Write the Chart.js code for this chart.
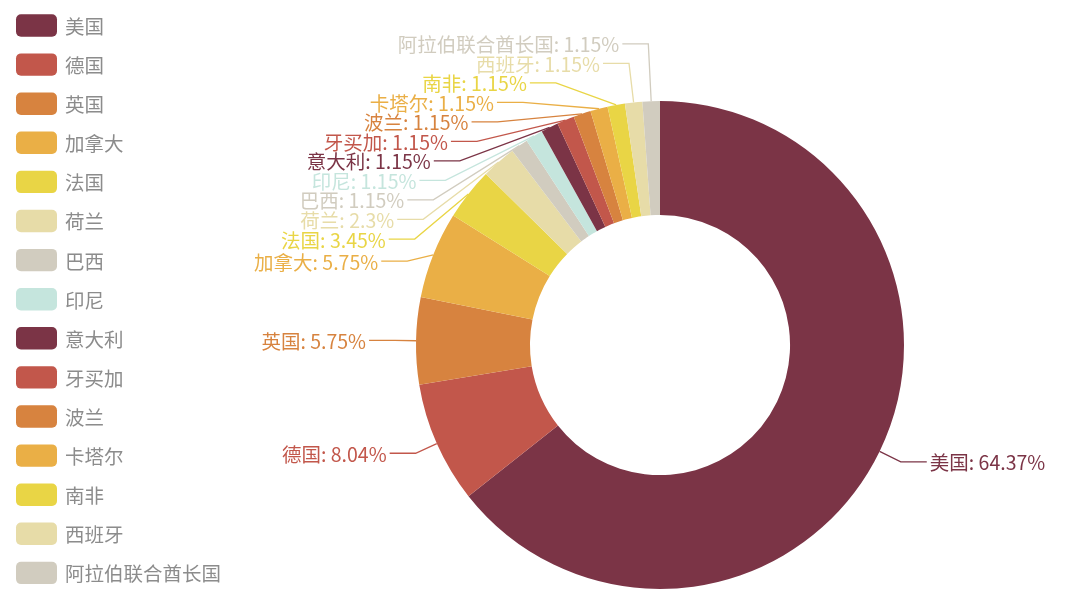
<!DOCTYPE html>
<html>
<head>
<meta charset="utf-8">
<script src="https://cdn.jsdelivr.net/npm/chart.js@4.4.0/dist/chart.umd.min.js"></script>
<style>
  html, body { margin: 0; padding: 0; background: #ffffff; }
  #wrap { width: 1080px; height: 608px; position: relative; }
</style>
</head>
<body>
<div id="wrap"><canvas id="c" width="1080" height="608"></canvas></div>
<script>
// ---- data ----
const categories = ['美国', '德国', '英国', '加拿大', '法国', '荷兰', '巴西', '印尼', '意大利', '牙买加', '波兰', '卡塔尔', '南非', '西班牙', '阿拉伯联合酋长国'];
const shares = [64.37, 8.04, 5.75, 5.75, 3.45, 2.3, 1.15, 1.15, 1.15, 1.15, 1.15, 1.15, 1.15, 1.15, 1.15];
const palette = ['#7b3446', '#c2574b', '#d7833f', '#eaaf46', '#e9d545', '#e7dca8', '#d1ccbf', '#c5e5dd'];
const sliceColors = categories.map((_, i) => palette[i % palette.length]);

const FONT = '"Noto Sans CJK SC", "Noto Sans", sans-serif';
const LABEL_SIZE = 19.5;

// ---- legend drawn on the canvas (left column) ----
const sideLegend = {
  id: 'sideLegend',
  afterDraw(chart) {
    const ctx = chart.ctx;
    const labels = chart.data.labels;
    const colors = chart.data.datasets[0].backgroundColor;
    ctx.save();
    ctx.font = LABEL_SIZE + 'px ' + FONT;
    ctx.textBaseline = 'middle';
    ctx.textAlign = 'left';
    labels.forEach((lab, i) => {
      const yc = 25.5 + i * 39.1;
      ctx.fillStyle = colors[i];
      ctx.beginPath();
      ctx.roundRect(16, yc - 11.2, 41, 22.4, 5);
      ctx.fill();
      ctx.fillStyle = '#8c8c8c';
      ctx.fillText(lab, 65, yc + 1);
    });
    ctx.restore();
  }
};

// ---- outside labels with leader lines (ECharts-like layout) ----
function adjustSide(list, cx, cy, r, dir, viewTop, viewHeight) {
  if (!list.length) return;
  list.sort((a, b) => a.y - b.y);
  function shiftUp(end, delta) {
    for (let j = end; j >= 0; j--) {
      if (list[j].y - delta < viewTop) break;
      list[j].y -= delta;
      if (j > 0 && list[j].y > list[j - 1].y + list[j - 1].height) break;
    }
  }
  function shiftDown(start, end, delta) {
    for (let j = start; j < end; j++) {
      if (list[j].y + delta > viewTop + viewHeight) break;
      list[j].y += delta;
      if (j > start && j + 1 < end && list[j + 1].y > list[j].y + list[j].height) {
        shiftUp(j, delta / 2);
        return;
      }
    }
    shiftUp(end - 1, delta / 2);
  }
  function changeX(sub, isDown) {
    let last = isDown ? Number.MAX_VALUE : 0;
    for (const it of sub) {
      const dY = Math.abs(it.y - cy);
      let dX = dY < r + it.len
        ? Math.sqrt(Math.pow(r + it.len + it.len2, 2) - dY * dY)
        : Math.abs(it.x - cx);
      if (isDown && dX >= last) dX = last - 10;
      if (!isDown && dX <= last) dX = last + 10;
      it.x = cx + dX * dir;
      last = dX;
    }
  }
  let lastY = 0;
  const len = list.length;
  for (let i = 0; i < len; i++) {
    const delta = list[i].y - lastY;
    if (delta < 0) shiftDown(i, len, -delta);
    lastY = list[i].y + list[i].height;
  }
  if (viewHeight - lastY < 0) shiftUp(len - 1, lastY - viewHeight);
  const up = [], down = [];
  list.forEach(it => (it.y >= cy ? down : up).push(it));
  changeX(up, false);
  changeX(down, true);
}

const outerLabels = {
  id: 'outerLabels',
  afterDatasetsDraw(chart) {
    const meta = chart.getDatasetMeta(0);
    const ds = chart.data.datasets[0];
    const LEN = 24, LEN2 = 26, H = 19.5, GAP = 5;
    let cx = 0, cy = 0, r = 0;
    const items = meta.data.map((arc, i) => {
      const p = arc.getProps(['x', 'y', 'startAngle', 'endAngle', 'outerRadius'], true);
      cx = p.x; cy = p.y; r = p.outerRadius;
      const mid = (p.startAngle + p.endAngle) / 2;
      const dx = Math.cos(mid), dy = Math.sin(mid);
      const dir = dx < 0 ? -1 : 1;
      const x1 = cx + dx * r, y1 = cy + dy * r;
      const x2 = cx + dx * (r + LEN), y2 = cy + dy * (r + LEN);
      const x3 = x2 + dir * LEN2;
      return {
        dir, x1, y1, dist: x2 - x3,
        x: x3 + dir * GAP, y: y2, height: H, len: LEN, len2: LEN2,
        text: chart.data.labels[i] + ': ' + ds.data[i] + '%',
        color: ds.backgroundColor[i]
      };
    });
    const left = items.filter(it => it.dir < 0);
    const right = items.filter(it => it.dir > 0);
    adjustSide(right, cx, cy, r, 1, 0, chart.height);
    adjustSide(left, cx, cy, r, -1, 0, chart.height);

    const ctx = chart.ctx;
    ctx.save();
    ctx.font = LABEL_SIZE + 'px ' + FONT;
    ctx.textBaseline = 'middle';
    ctx.lineWidth = 1.3;
    items.forEach(it => {
      const endX = it.x - it.dir * 3;
      const bendX = endX + it.dist;
      ctx.strokeStyle = it.color;
      ctx.beginPath();
      ctx.moveTo(it.x1, it.y1);
      ctx.lineTo(bendX, it.y);
      ctx.lineTo(endX, it.y);
      ctx.stroke();
      ctx.fillStyle = it.color;
      ctx.textAlign = it.dir < 0 ? 'right' : 'left';
      ctx.fillText(it.text, it.x, it.y + 1);
    });
    ctx.restore();
  }
};

new Chart(document.getElementById('c'), {
  type: 'doughnut',
  data: {
    labels: categories,
    datasets: [{
      data: shares,
      backgroundColor: sliceColors,
      borderWidth: 0,
      hoverOffset: 0
    }]
  },
  options: {
    responsive: false,
    animation: false,
    cutout: '53.3%',
    layout: { padding: { left: 416, right: 176, top: 101, bottom: 19 } },
    plugins: {
      legend: { display: false },
      tooltip: { enabled: false },
      title: { display: false }
    }
  },
  plugins: [sideLegend, outerLabels]
});
</script>
</body>
</html>
